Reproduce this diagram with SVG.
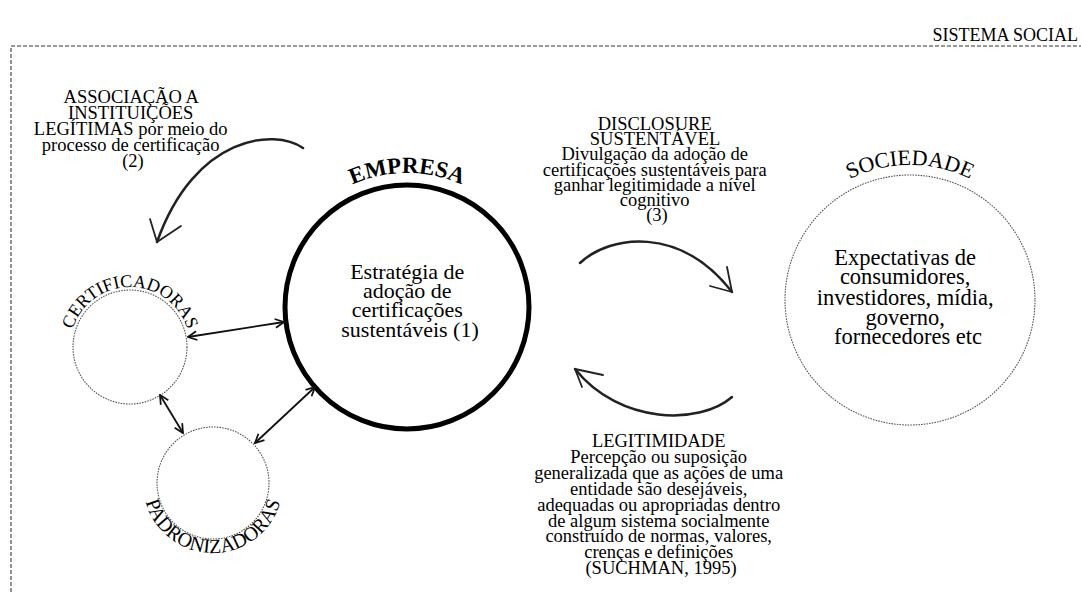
<svg xmlns="http://www.w3.org/2000/svg" width="1081" height="592" viewBox="0 0 1081 592">
<defs>
<style>
.t{font-family:"Liberation Serif","Times New Roman",serif;fill:#000}
.ann{font-size:18.5px}
.inner{font-size:22px}
.ring{fill:none;stroke:#555;stroke-width:1.1;stroke-dasharray:1.6 1.1}
.dbl{stroke:#111;stroke-width:1.8;fill:none;marker-start:url(#ah);marker-end:url(#ah)}
.curve{fill:none;stroke:#222;stroke-width:2.5;stroke-linecap:round}
.head{fill:none;stroke:#222;stroke-width:1.8;stroke-linecap:round;stroke-linejoin:round}
</style>
<marker id="ah" viewBox="0 0 10 10" refX="9" refY="5" markerWidth="11" markerHeight="11" markerUnits="userSpaceOnUse" orient="auto-start-reverse">
<path d="M1,1 L9,5 L1,9" fill="none" stroke="#111" stroke-width="1.6"/>
</marker>
<path id="pCert" d="M78.04,377 A60,60 0 1 1 181.96,377"/>
<path id="pPadr" d="M152.38,448 A70,70 0 1 0 273.62,448"/>
<path id="pEmp" d="M273,307 A134,134 0 0 1 541,307"/>
<path id="pSoc" d="M775,300 A135,135 0 0 1 1045,300"/>
</defs>
<rect width="1081" height="592" fill="#fff"/>

<g id="sistema-social">
<path d="M11,592 L11,46 L1081,46" fill="none" stroke="#777" stroke-width="1.6" stroke-dasharray="4 2"/>
<text class="t" x="1078" y="41" font-size="18px" text-anchor="end">SISTEMA SOCIAL</text>
</g>

<g id="empresa">
<circle cx="407" cy="307" r="122" fill="none" stroke="#000" stroke-width="5"/>
<text class="t" font-size="23px" font-weight="bold"><textPath href="#pEmp" startOffset="50%" text-anchor="middle">EMPRESA</textPath></text>
<text class="t inner" text-anchor="middle">
<tspan x="410" y="279">Estratégia de</tspan>
<tspan x="410" y="298">adoção de</tspan>
<tspan x="410" y="317">certificações</tspan>
<tspan x="410" y="337">sustentáveis (1)</tspan>
</text>
</g>

<g id="certificadoras">
<circle class="ring" cx="130" cy="347" r="57"/>
<text class="t" font-size="18px"><textPath href="#pCert" startOffset="50%" text-anchor="middle">CERTIFICADORAS</textPath></text>
</g>

<g id="padronizadoras">
<circle class="ring" cx="213" cy="483" r="56"/>
<text class="t" font-size="20px"><textPath href="#pPadr" startOffset="50%" text-anchor="middle">PADRONIZADORAS</textPath></text>
</g>

<g id="sociedade">
<circle class="ring" cx="910" cy="300" r="125"/>
<text class="t" font-size="22px"><textPath href="#pSoc" startOffset="50%" text-anchor="middle">SOCIEDADE</textPath></text>
<text class="t" font-size="22.5px" text-anchor="middle">
<tspan x="908" y="265">Expectativas de</tspan>
<tspan x="908" y="284">consumidores,</tspan>
<tspan x="908" y="305">investidores, mídia,</tspan>
<tspan x="908" y="325">governo,</tspan>
<tspan x="908" y="344">fornecedores etc</tspan>
</text>
</g>

<g id="associacao-label">
<text class="t ann" text-anchor="middle">
<tspan x="133" y="103">ASSOCIAÇÃO A</tspan>
<tspan x="133" y="119">INSTITUIÇÕES</tspan>
<tspan x="133" y="135">LEGÍTIMAS por meio do</tspan>
<tspan x="133" y="151">processo de certificação</tspan>
<tspan x="133" y="167">(2)</tspan>
</text>
</g>

<g id="disclosure-label">
<text class="t ann" text-anchor="middle">
<tspan x="657" y="130">DISCLOSURE</tspan>
<tspan x="657" y="145.2">SUSTENTÁVEL</tspan>
<tspan x="657" y="160.4">Divulgação da adoção de</tspan>
<tspan x="657" y="175.6">certificações sustentáveis para</tspan>
<tspan x="657" y="190.8">ganhar legitimidade a nível</tspan>
<tspan x="657" y="206">cognitivo</tspan>
<tspan x="657" y="221.2">(3)</tspan>
</text>
</g>

<g id="legitimidade-label">
<text class="t ann" text-anchor="middle">
<tspan x="661" y="447">LEGITIMIDADE</tspan>
<tspan x="661" y="463">Percepção ou suposição</tspan>
<tspan x="661" y="479">generalizada que as ações de uma</tspan>
<tspan x="661" y="495">entidade são desejáveis,</tspan>
<tspan x="661" y="511">adequadas ou apropriadas dentro</tspan>
<tspan x="661" y="526.5">de algum sistema socialmente</tspan>
<tspan x="661" y="542">construído de normas, valores,</tspan>
<tspan x="661" y="558">crenças e definições</tspan>
<tspan x="661" y="574">(SUCHMAN, 1995)</tspan>
</text>
</g>

<g id="connectors">
<line class="dbl" x1="188" y1="337" x2="284" y2="322"/>
<line class="dbl" x1="160" y1="395" x2="183" y2="433"/>
<line class="dbl" x1="255" y1="443" x2="315" y2="387"/>
<path class="curve" d="M303,148 C275,128 195,135 157,242"/>
<path class="head" d="M150,219 L157,242 L181,226"/>
<path class="curve" d="M580,263 C610,235 680,225 732,292"/>
<path class="head" d="M727,267 L732,292 L710,286"/>
<path class="curve" d="M732,397 C700,425 620,425 575,369"/>
<path class="head" d="M603,375 L575,369 L582,387"/>
</g>
</svg>
